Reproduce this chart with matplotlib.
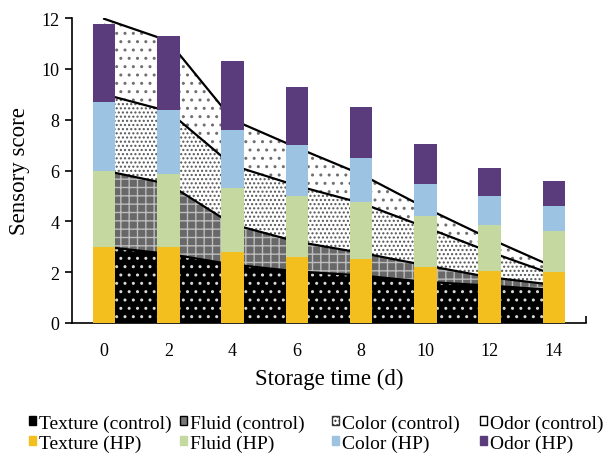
import matplotlib
matplotlib.use("Agg")
import matplotlib.pyplot as plt
from matplotlib.patches import Patch
import numpy as np

plt.rcParams['font.family'] = ['Liberation Serif', 'DejaVu Serif']
plt.rcParams['hatch.linewidth'] = 1.0

days = [0, 2, 4, 6, 8, 10, 12, 14]

# control (stacked area)
texture_c = [3.0, 2.72, 2.3, 2.03, 1.87, 1.62, 1.47, 1.3]
fluid_c = [3.0, 2.75, 1.58, 1.17, 0.89, 0.65, 0.33, 0.2]
color_c = [3.0, 2.86, 2.32, 2.2, 1.96, 1.5, 1.0, 0.4]
odor_c = [2.97, 2.77, 1.8, 1.5, 1.13, 0.76, 0.52, 0.3]

# HP (stacked bars)
texture_hp = [3.0, 3.0, 2.8, 2.6, 2.5, 2.2, 2.05, 2.0]
fluid_hp = [3.0, 2.85, 2.5, 2.4, 2.25, 2.0, 1.8, 1.6]
color_hp = [2.7, 2.55, 2.3, 2.0, 1.75, 1.25, 1.15, 1.0]
odor_hp = [3.05, 2.9, 2.7, 2.3, 2.0, 1.6, 1.1, 1.0]

yellow = '#F2BF1E'
green = '#C5D89F'
blue = '#9DC3E2'
purple = '#5A3B7B'

fig = plt.figure(figsize=(6.07, 4.56), dpi=100)
ax = fig.add_axes([0.1186, 0.2895, 0.8468, 0.6688])

x = np.array(days)
control = [texture_c, fluid_c, color_c, odor_c]
area_style = [
    dict(facecolor='black', edgecolor='#d8d8d8', hatch='..'),
    dict(facecolor='#686868', edgecolor='#bdbdbd', hatch='++'),
    dict(facecolor='white', edgecolor='#555555', hatch='....'),
    dict(facecolor='white', edgecolor='#707070', hatch='..'),
]
base = np.zeros(len(days))
for vals, st in zip(control, area_style):
    top = base + np.array(vals)
    ax.fill_between(x, base, top, linewidth=0, zorder=1, **st)
    ax.plot(x, top, color='black', lw=1.6, zorder=2)
    base = top

hp = [texture_hp, fluid_hp, color_hp, odor_hp]
hp_colors = [yellow, green, blue, purple]
base = np.zeros(len(days))
for vals, c in zip(hp, hp_colors):
    ax.bar(x, vals, width=0.7, bottom=base, color=c, linewidth=0, zorder=3)
    base = base + np.array(vals)

ax.set_xlim(-1, 15)
ax.set_ylim(0, 12)
ax.set_xticks(days)
ax.set_xticks([15], minor=True)
ax.tick_params(axis='x', which='major', length=0, pad=14, labelsize=13)
ax.tick_params(axis='x', which='minor', direction='in', length=5, width=1.2)
ax.set_yticks(range(0, 13, 2))
ax.tick_params(axis='y', length=5, width=1.2, labelsize=13, pad=4)
for s in ['top', 'right']:
    ax.spines[s].set_visible(False)
for s in ['left', 'bottom']:
    ax.spines[s].set_linewidth(1.2)
ax.set_xlabel('Storage time (d)', fontsize=16.5, labelpad=6)
ax.set_ylabel('Sensory score', fontsize=16.5, labelpad=8)

# legend: one small legend per column
columns = [
    [Patch(facecolor='black', edgecolor='black', label='Texture (control)'),
     Patch(facecolor=yellow, edgecolor=yellow, label='Texture (HP)')],
    [Patch(facecolor='#777777', edgecolor='black', label='Fluid (control)'),
     Patch(facecolor=green, edgecolor=green, label='Fluid (HP)')],
    [Patch(facecolor='white', edgecolor='#333333', hatch='....', label='Color (control)'),
     Patch(facecolor=blue, edgecolor=blue, label='Color (HP)')],
    [Patch(facecolor='white', edgecolor='black', label='Odor (control)'),
     Patch(facecolor=purple, edgecolor=purple, label='Odor (HP)')],
]
col_x = [0.0478, 0.2965, 0.547, 0.791]
for hs, cx in zip(columns, col_x):
    fig.legend(handles=hs, ncol=1, loc='center left', bbox_to_anchor=(cx, 0.048),
               frameon=False, fontsize=14, handlelength=0.35, handleheight=0.35,
               handletextpad=0.15, labelspacing=0.15, borderpad=0, borderaxespad=0)

fig.savefig('out.png', dpi=100)
